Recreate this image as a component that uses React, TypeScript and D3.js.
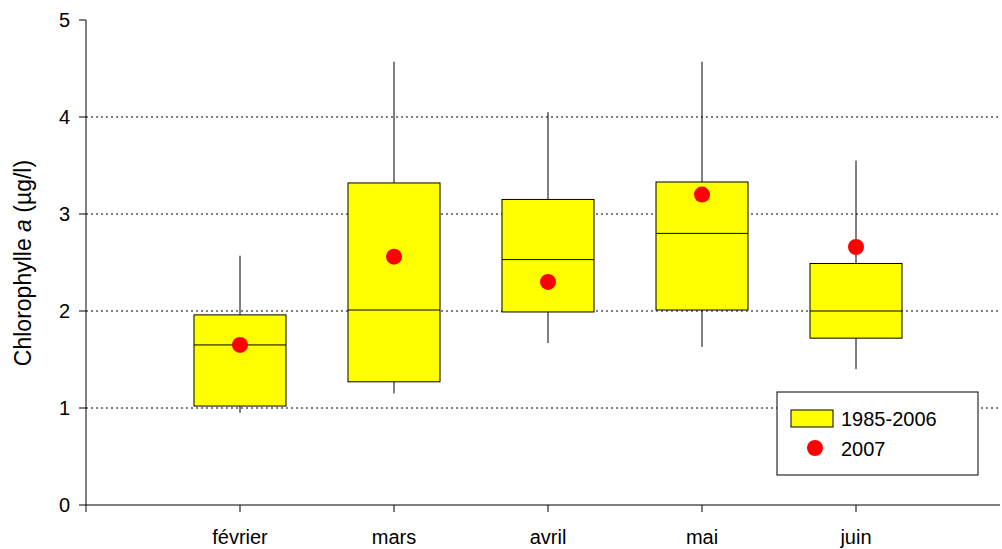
import * as d3 from "d3";

const months = ["février", "mars", "avril", "mai", "juin"];
const whiskerLow = [0.95, 1.15, 1.67, 1.63, 1.4];
const q1 = [1.02, 1.27, 1.99, 2.01, 1.72];
const median = [1.65, 2.01, 2.53, 2.8, 2.0];
const q3 = [1.96, 3.32, 3.15, 3.33, 2.49];
const whiskerHigh = [2.57, 4.57, 4.05, 4.57, 3.55];
const values2007 = [1.65, 2.56, 2.3, 3.2, 2.66];
const yTicks = [0, 1, 2, 3, 4, 5];

const font = "Liberation Sans, Arial, sans-serif";

export default function App() {
  const width = 1002;
  const height = 549;
  const left = 86;
  const right = 1000;
  const x = d3.scaleLinear().domain([0, 6]).range([left, 1010]);
  const y = d3.scaleLinear().domain([0, 5]).range([505, 20]);
  const boxW = 92;

  return (
    <svg width={width} height={height} style={{ position: "absolute", left: 0, top: 0 }} fontFamily={font}>
      {yTicks.filter((t) => t > 0 && t < 5).map((t) => (
        <line key={t} x1={left} x2={right} y1={y(t)} y2={y(t)} stroke="#000" strokeDasharray="2,3" strokeWidth={1} />
      ))}
      {months.map((m, i) => {
        const cx = x(i + 1);
        return (
          <g key={m}>
            <line x1={cx} x2={cx} y1={y(whiskerLow[i])} y2={y(q1[i])} stroke="#000" />
            <line x1={cx} x2={cx} y1={y(q3[i])} y2={y(whiskerHigh[i])} stroke="#000" />
            <rect x={cx - boxW / 2} width={boxW} y={y(q3[i])} height={y(q1[i]) - y(q3[i])} fill="#ffff00" stroke="#000" />
            <line x1={cx - boxW / 2} x2={cx + boxW / 2} y1={y(median[i])} y2={y(median[i])} stroke="#000" />
            <circle cx={cx} cy={y(values2007[i])} r={8} fill="#ff0000" />
            <line x1={cx} x2={cx} y1={505} y2={512} stroke="#000" />
            <text x={cx} y={544} textAnchor="middle" fontSize={20}>{m}</text>
          </g>
        );
      })}
      <line x1={left} x2={right} y1={505} y2={505} stroke="#000" />
      <line x1={left} x2={left} y1={20} y2={512} stroke="#000" />
      {yTicks.map((t) => (
        <g key={t}>
          <line x1={left - 7} x2={left} y1={y(t)} y2={y(t)} stroke="#000" />
          <text x={left - 16} y={y(t) + 7} textAnchor="end" fontSize={20}>{t}</text>
        </g>
      ))}
      <text transform="translate(31,263) rotate(-90)" textAnchor="middle" fontSize={23}>
        Chlorophylle <tspan fontStyle="italic">a</tspan> (µg/l)
      </text>
      <rect x={777} y={392} width={201} height={83} fill="#fff" stroke="#000" />
      <rect x={791} y={410} width={42} height={17} fill="#ffff00" stroke="#000" />
      <text x={841} y={426} fontSize={20}>1985-2006</text>
      <circle cx={815} cy={448} r={8} fill="#ff0000" />
      <text x={841} y={456} fontSize={20}>2007</text>
    </svg>
  );
}
